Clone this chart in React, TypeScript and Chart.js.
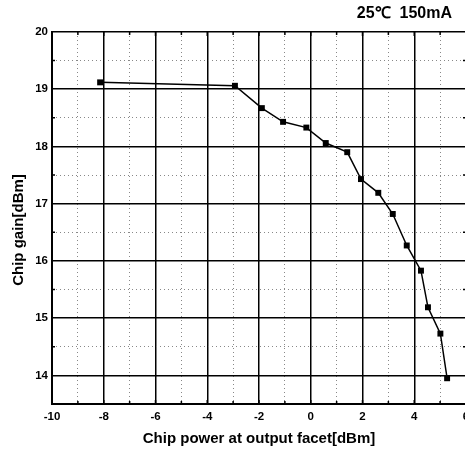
import React, { useEffect, useRef } from "react";
import { Chart, registerables } from "chart.js";

Chart.register(...registerables);

// ---- data ----
const powerDbm = [-8.14, -2.93, -1.89, -1.07, -0.17, 0.58, 1.41, 1.94, 2.61, 3.17, 3.71, 4.26, 4.53, 5.01, 5.27];
const gainDbm = [19.12, 19.06, 18.67, 18.43, 18.33, 18.06, 17.9, 17.43, 17.19, 16.82, 16.27, 15.83, 15.19, 14.73, 13.95];

const xMajorTicks = [-10, -8, -6, -4, -2, 0, 2, 4, 6];
const xMinorTicks = [-9, -7, -5, -3, -1, 1, 3, 5];
const yMajorTicks = [14, 15, 16, 17, 18, 19, 20];
const yMinorTicks = [14.5, 15.5, 16.5, 17.5, 18.5, 19.5];
const xRange = [-10, 6];
const yRange = [13.5, 20];

const annotationText = "25℃  150mA";
const xTitle = "Chip power at output facet[dBm]";
const yTitle = "Chip gain[dBm]";

const FONT = '"Liberation Sans", Arial, sans-serif';

export default function App() {
  const ref = useRef<HTMLCanvasElement | null>(null);

  useEffect(() => {
    document.body.style.margin = "0";
    const canvas = ref.current;
    if (!canvas) return;

    const extras = {
      id: "extras",
      afterDatasetsDraw(chart: any) {
        const ctx = chart.ctx;
        const { top, bottom, left, right } = chart.chartArea;
        const xs = chart.scales.x;
        const ys = chart.scales.y;
        ctx.save();
        ctx.strokeStyle = "#000";
        ctx.lineWidth = 1.5;
        // inward tick marks on the frame
        ctx.beginPath();
        for (const v of [...xMinorTicks, ...xMajorTicks]) {
          const px = xs.getPixelForValue(v);
          const len = xMinorTicks.includes(v) ? 3 : 4;
          ctx.moveTo(px, top);
          ctx.lineTo(px, top + len);
          ctx.moveTo(px, bottom);
          ctx.lineTo(px, bottom - len);
        }
        for (const v of yMinorTicks) {
          const py = ys.getPixelForValue(v);
          ctx.moveTo(left, py);
          ctx.lineTo(left + 3, py);
          ctx.moveTo(right, py);
          ctx.lineTo(right - 3, py);
        }
        ctx.stroke();
        ctx.restore();
      },
      afterDraw(chart: any) {
        const ctx = chart.ctx;
        ctx.save();
        ctx.fillStyle = "#000";
        ctx.font = `bold 16px ${FONT}`;
        ctx.textAlign = "right";
        ctx.textBaseline = "middle";
        ctx.fillText(annotationText, 452, 14);
        // y-axis title (sits a little below the plot's centre in the reference)
        ctx.font = `bold 15px ${FONT}`;
        ctx.textAlign = "center";
        ctx.translate(18.5, 230);
        ctx.rotate(-Math.PI / 2);
        ctx.fillText(yTitle, 0, 0);
        ctx.restore();
      },
    };

    const chart = new Chart(canvas, {
      type: "line",
      data: {
        datasets: [
          {
            data: powerDbm.map((x, i) => ({ x, y: gainDbm[i] })),
            borderColor: "#000",
            borderWidth: 1.5,
            backgroundColor: "#000",
            pointStyle: "rect",
            pointRadius: 4.2,
            pointBorderWidth: 0,
            pointBackgroundColor: "#000",
            tension: 0,
            fill: false,
          },
        ],
      },
      options: {
        animation: false,
        responsive: false,
        devicePixelRatio: 1,
        layout: { padding: { left: 0, top: 32, right: 24, bottom: 0 } },
        plugins: {
          legend: { display: false },
          tooltip: { enabled: false },
          title: { display: false },
        },
        scales: {
          x: {
            type: "linear",
            position: "bottom",
            min: xRange[0],
            max: xRange[1],
            afterBuildTicks: (s: any) => {
              s.ticks = xMajorTicks.map((v) => ({ value: v }));
            },
            afterFit: (s: any) => {
              s.height = 48;
              s.paddingLeft = 0;
              s.paddingRight = 0;
            },
            grid: { color: "#000", lineWidth: 1.5, drawTicks: false },
            border: { display: true, color: "#000", width: 2 },
            ticks: {
              color: "#000",
              padding: 6,
              maxRotation: 0,
              autoSkip: false,
              font: { family: FONT, size: 11.5, weight: "bold" },
            },
            title: {
              display: true,
              text: xTitle,
              color: "#000",
              font: { family: FONT, size: 15, weight: "bold" },
              padding: { top: 0, bottom: 4 },
            },
          },
          x2: {
            type: "linear",
            position: "bottom",
            min: xRange[0],
            max: xRange[1],
            afterBuildTicks: (s: any) => {
              s.ticks = xMinorTicks.map((v) => ({ value: v }));
            },
            afterFit: (s: any) => {
              s.height = 0;
              s.paddingLeft = 0;
              s.paddingRight = 0;
            },
            grid: { color: "#888", lineWidth: 1, drawTicks: false },
            border: { display: false, dash: [1, 3] },
            ticks: { display: false },
          },
          y: {
            type: "linear",
            position: "left",
            min: yRange[0],
            max: yRange[1],
            afterBuildTicks: (s: any) => {
              s.ticks = yMajorTicks.map((v) => ({ value: v }));
            },
            afterFit: (s: any) => {
              s.width = 52;
              s.paddingTop = 0;
              s.paddingBottom = 0;
            },
            grid: { color: "#000", lineWidth: 1.5, drawTicks: false },
            border: { display: true, color: "#000", width: 2 },
            ticks: {
              color: "#000",
              padding: 4,
              autoSkip: false,
              font: { family: FONT, size: 11.5, weight: "bold" },
            },
            title: { display: false },
          },
          y2: {
            type: "linear",
            position: "left",
            min: yRange[0],
            max: yRange[1],
            afterBuildTicks: (s: any) => {
              s.ticks = yMinorTicks.map((v) => ({ value: v }));
            },
            afterFit: (s: any) => {
              s.width = 0;
              s.paddingTop = 0;
              s.paddingBottom = 0;
            },
            grid: { color: "#888", lineWidth: 1, drawTicks: false },
            border: { display: false, dash: [1, 3] },
            ticks: { display: false },
          },
        },
      },
      plugins: [extras],
    } as any);

    return () => chart.destroy();
  }, []);

  return (
    <div
      style={{
        position: "fixed",
        left: 0,
        top: 0,
        width: 465,
        height: 452,
        overflow: "hidden",
        background: "#fff",
      }}
    >
      <canvas ref={ref} width={490} height={452} style={{ display: "block" }} />
    </div>
  );
}
